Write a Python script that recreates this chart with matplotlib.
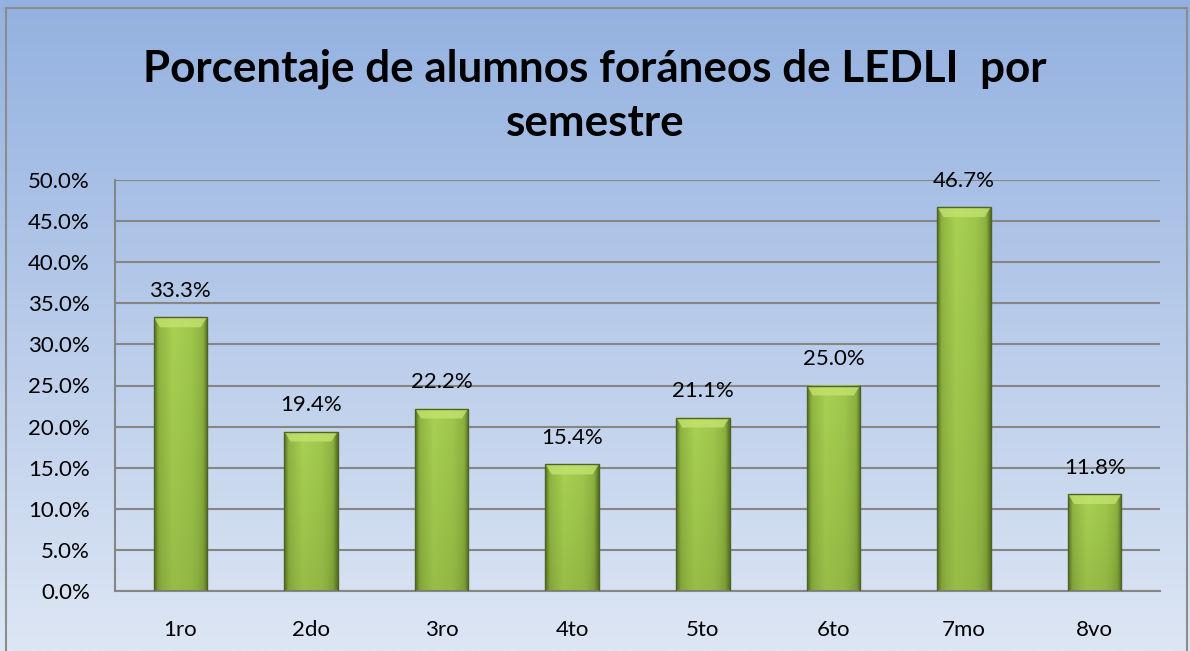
import numpy as np
import matplotlib
matplotlib.use("Agg")
import matplotlib.pyplot as plt
from matplotlib.patches import Rectangle, Polygon
from matplotlib.colors import LinearSegmentedColormap

categories = ["1ro", "2do", "3ro", "4to", "5to", "6to", "7mo", "8vo"]
values = [33.3, 19.4, 22.2, 15.4, 21.1, 25.0, 46.7, 11.8]
yticks = [0, 5, 10, 15, 20, 25, 30, 35, 40, 45, 50]
title = "Porcentaje de alumnos foráneos de LEDLI  por\nsemestre"

plt.rcParams['font.family'] = ['Lato', 'DejaVu Sans']

W, H = 1190, 651
fig = plt.figure(figsize=(W / 100, H / 100), dpi=100)

# background gradient
bg = fig.add_axes([0, 0, 1, 1], zorder=-10)
grad = np.linspace(0, 1, 256).reshape(-1, 1)
bg_cmap = LinearSegmentedColormap.from_list("bg", ["#93b1e0", "#dde6f4"])
bg.imshow(grad, aspect='auto', cmap=bg_cmap, extent=[0, 1, 0, 1], origin='upper')
bg.set_xlim(0, 1); bg.set_ylim(0, 1)
bg.axis('off')
bg.add_patch(Rectangle((6 / W, -0.01), (1187 - 6) / W, (651 - 8) / H + 0.01,
                       fill=False, edgecolor='#8c8c8c', lw=1.5, transform=bg.transAxes))

left, right, top, bottom = 115, 1160, 180, 591
ax = fig.add_axes([left / W, 1 - bottom / H, (right - left) / W, (bottom - top) / H])
ax.patch.set_alpha(0)
ax.set_ylim(0, 50)
ax.set_xlim(-0.5, len(categories) - 0.5)
ax.set_yticks(yticks)
ax.set_yticklabels([f"{v:.1f}%" for v in yticks], fontsize=16)
ax.set_xticks(range(len(categories)))
ax.set_xticklabels(categories, fontsize=16)
ax.tick_params(length=0)
ax.tick_params(axis='y', pad=18)
ax.tick_params(axis='x', pad=21)
for s in ['top', 'right']:
    ax.spines[s].set_visible(False)
for s in ['left', 'bottom']:
    ax.spines[s].set_color('#868686')
    ax.spines[s].set_linewidth(1.5)
ax.grid(axis='y', color='#868686', lw=1.5)
ax.set_axisbelow(True)

bars = ax.bar(range(len(categories)), values, width=0.41, color='none',
              edgecolor='#4f6228', lw=1.0, zorder=3)

# horizontal gradient image for bar body
xs = np.linspace(0, 1, 64)
prof = np.interp(xs, [0, 0.08, 0.35, 0.7, 0.92, 1], [0.0, 0.55, 1.0, 0.85, 0.5, 0.0])
ys = np.linspace(0, 1, 128).reshape(-1, 1)
vert = 0.7 + 0.3 * ys  # darker toward bottom (origin lower)
img = prof.reshape(1, -1) * vert
bar_cmap = LinearSegmentedColormap.from_list("bar", ["#56701f", "#8cb040", "#a9d152"])

bevel_px = 10
units_per_px = 50 / (bottom - top)
for b, v in zip(bars, values):
    x0, w, h = b.get_x(), b.get_width(), b.get_height()
    im = ax.imshow(img, aspect='auto', cmap=bar_cmap, vmin=0, vmax=1,
                   extent=[x0, x0 + w, 0, h], origin='lower', zorder=2.5,
                   interpolation='bilinear')
    im.set_clip_path(b)
    bh = bevel_px * units_per_px
    bw = w * 0.12
    ax.add_patch(Polygon([[x0, h], [x0 + w, h], [x0 + w - bw, h - bh], [x0 + bw, h - bh]],
                         closed=True, facecolor='#c3e36e', edgecolor='none', alpha=0.8, zorder=2.8))
    ax.text(b.get_x() + w / 2, h + 2.0, f"{v:.1f}%", ha='center', va='bottom', fontsize=16,
            zorder=4)

ax.set_xlim(-0.5, len(categories) - 0.5)
ax.set_ylim(0, 50)

fig.text(0.5, 1 - 96 / H, title, ha='center', va='center', fontsize=31.7, fontweight='bold',
         linespacing=1.41)

fig.savefig("out.png", dpi=100)
